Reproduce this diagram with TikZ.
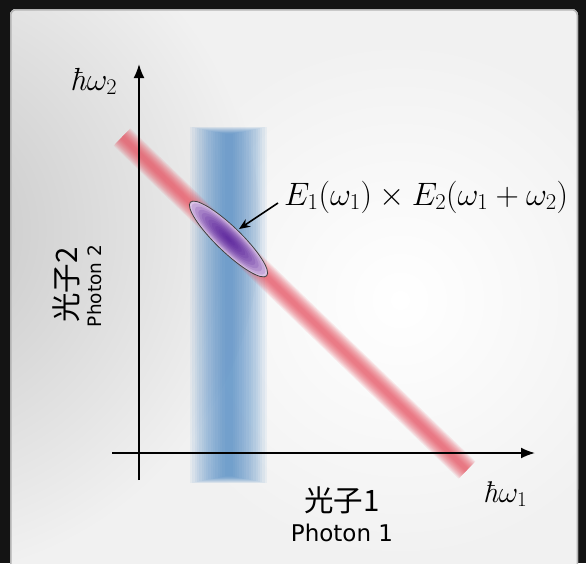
\documentclass[tikz,border=0pt]{standalone}
\usepackage{fix-cm}
\usepackage{fontspec}
\newfontfamily\cjk{Noto Sans CJK JP}
\newfontfamily\dejavu{DejaVu Sans}
\usetikzlibrary{arrows.meta}
\definecolor{bgdark}{HTML}{141414}
\definecolor{panelbase}{HTML}{F1F1F1}
\definecolor{panelgray}{HTML}{C4C4C4}
\definecolor{paneledge}{HTML}{B4B4B4}
\definecolor{bandblue}{HTML}{3A7DC0}
\definecolor{bandred}{HTML}{E84A5A}
\definecolor{ellpurple}{HTML}{4E1496}
\definecolor{elllav}{HTML}{DCC4E6}
\begin{document}
\begin{tikzpicture}[x=1pt,y=-1pt,
  axisline/.style={line width=1.8pt,-{Latex[length=14pt,width=11pt]}},
  pointer/.style={line width=1.6pt,-{Stealth[length=11pt,width=9pt]}},
  mathlbl/.style={inner sep=0pt},
  jplbl/.style={inner sep=0pt,font=\cjk\fontsize{29.5}{32}\selectfont},
  enlbl/.style={inner sep=0pt,font=\dejavu\fontsize{23}{26}\selectfont}]
\useasboundingbox (0,0) rectangle (586,563);
\fill[bgdark] (0,0) rectangle (586,563);
% panel
\begin{scope}
  \path[clip,rounded corners=6pt] (10,9) rectangle (578,590);
  \fill[panelbase] (0,0) rectangle (586,600);
  \shade[inner color=white,outer color=panelbase] (400,300) circle (260);
  \shade[inner color=panelgray,outer color=panelbase] (-90,230) circle (350);
  \draw[paneledge,line width=3pt,rounded corners=6pt] (10,9) rectangle (578,590);
\end{scope}
% blue band
\foreach \k in {0,...,15}{
  \fill[bandblue,opacity=0.065] ({190+\k*2.3},{127+\k*0.45}) rectangle ({267-\k*2.3},{483-\k*0.45});
}
% axes
\coordinate (xs) at (112,453);
\coordinate (xe) at (535,453);
\coordinate (ys) at (139,480);
\coordinate (ye) at (139,64);
% red band
\coordinate (r1) at (122,137);
\coordinate (r2) at (467,470);
\foreach \w in {24,22,...,4}{
  \draw[bandred,opacity=0.105,line width=\w pt] (r1) -- (r2);
}
\draw[axisline] (xs) -- (xe);
\draw[axisline] (ys) -- (ye);
% ellipse
\begin{scope}[shift={(228.5,239)},rotate=-44]
  \fill[elllav] (0,0) ellipse (53 and 12.5);
  \foreach \k in {0,...,10}{
    \fill[ellpurple,opacity=0.15] (0,0) ellipse ({50*(1-\k/11)} and {11.5*(1-\k/11)});
  }
  \draw[black!75,line width=0.8pt] (0,0) ellipse (53 and 12.5);
\end{scope}
% labels
\node[mathlbl,anchor=base west,font=\fontsize{32}{34}\selectfont] (w2) at (70,90) {\textit{ħ}$\omega_2$};
\node[mathlbl,anchor=base west,font=\fontsize{30}{32}\selectfont] (w1) at (483,502) {\textit{ħ}$\omega_1$};
\node[mathlbl,font=\fontsize{32.4}{34}\selectfont,anchor=base west] (eq) at (284,205) {$E_1(\omega_1)\times E_2(\omega_1+\omega_2)$};
\coordinate (tail) at (278,203);
\coordinate (head) at (239,229);
\draw[pointer] (tail) -- (head);
\node[jplbl,anchor=center] (p1j) at (342,500) {光子1};
\node[enlbl,anchor=base] (p1e) at (342,541) {Photon 1};
\node[jplbl,anchor=center,rotate=90] (p2j) at (66,285) {光子2};
\node[enlbl,anchor=base,rotate=90,font=\dejavu\fontsize{18.5}{22}\selectfont] (p2e) at (101,286) {Photon 2};
\end{tikzpicture}
\end{document}
